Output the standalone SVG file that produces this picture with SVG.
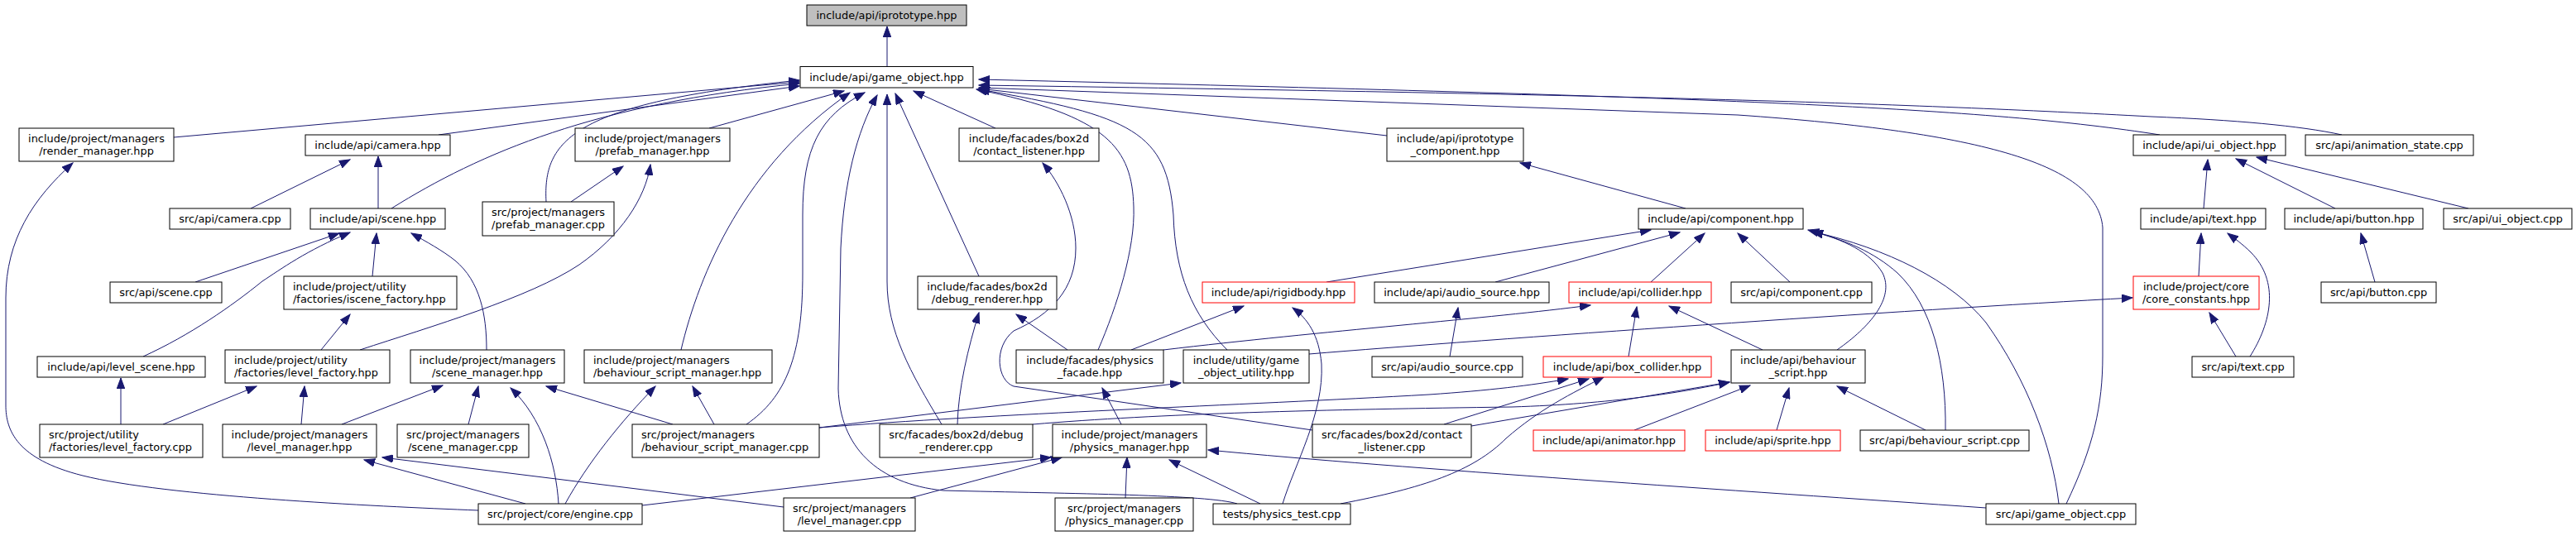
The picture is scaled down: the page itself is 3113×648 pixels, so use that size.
<svg xmlns="http://www.w3.org/2000/svg" width="3113" height="648" viewBox="0 0 3113 648">
<style>
.n rect{fill:#fff;stroke:#000;stroke-width:1}
.root rect{fill:#bfbfbf}
.red rect{stroke:#ff0000}
text{font-family:"DejaVu Sans","Liberation Sans",sans-serif;font-size:12.9px;fill:#000;text-anchor:middle}
text.l{text-anchor:start}
.e path{fill:none;stroke:#191970;stroke-width:1;marker-end:url(#a)}
</style>
<defs>
<marker id="a" markerWidth="14" markerHeight="10" refX="13" refY="5" orient="auto" markerUnits="userSpaceOnUse"><path d="M0,0.2 L13,5 L0,9.8 Z" fill="#191970" stroke="#191970" stroke-width="1"/></marker>
</defs>
<rect width="3113" height="648" fill="#fff"/>
<g class="e" id="edges">
<path d="M1072,80.5 L1072,32"/>
<path d="M210,166 L966,99"/>
<path d="M530,163 L966,104"/>
<path d="M473,252 C580,185 720,125 966,101"/>
<path d="M660,244 C656,170 690,125 966,97"/>
<path d="M857,155 L1020,110"/>
<path d="M823,423 C845,330 900,200 1027,112"/>
<path d="M902,513 C950,480 970,430 970,330 L970,260 C970,180 990,140 1045,112"/>
<path d="M1495,609 C1460,598 1300,597 1140,593 C1060,585 1015,540 1013,470 L1016,300 C1020,220 1035,160 1060,115"/>
<path d="M1138,513 C1100,450 1072,400 1072,340 L1072,114"/>
<path d="M1183,334 L1082,113"/>
<path d="M1203,155 L1104,110"/>
<path d="M1327,423 C1350,370 1372,300 1370,250 C1368,180 1340,140 1180,108"/>
<path d="M1483,423 C1440,380 1420,330 1418,260 C1410,160 1370,140 1183,108"/>
<path d="M1676,164 L1183,107"/>
<path d="M2497,609 C2530,540 2541,490 2541,430 L2541,275 C2535,200 2400,160 2100,139 L1183,106"/>
<path d="M2610,163 C2400,130 2100,118 1183,96"/>
<path d="M2830,163 C2780,152 2700,145 2600,141 C2300,125 2000,115 1183,103"/>
<path d="M303,252 L423,193"/>
<path d="M457,252 L457,189"/>
<path d="M236,341 L410,282"/>
<path d="M173,431 C230,405 280,370 317,340 C340,325 370,303 423,281"/>
<path d="M450,334 L455,282"/>
<path d="M588,423 C588,380 580,340 550,315 C535,303 515,292 497,282"/>
<path d="M690,244 L753,201"/>
<path d="M435,423 C520,395 640,360 700,320 C750,285 780,240 786,199"/>
<path d="M388,423 L423,380"/>
<path d="M197,513 L310,467"/>
<path d="M364,513 L368,467"/>
<path d="M146,513 L146,457"/>
<path d="M413,513 L535,466"/>
<path d="M566,513 L578,467"/>
<path d="M675,609 C672,560 655,505 617,469"/>
<path d="M813,513 L660,467"/>
<path d="M683,609 C710,560 750,510 792,467"/>
<path d="M863,513 L837,467"/>
<path d="M578,617 C450,612 200,600 100,575 C20,555 7,520 7,490 L7,360 C7,290 40,240 88,197"/>
<path d="M635,609 L440,556"/>
<path d="M947,613 L462,553"/>
<path d="M776,611 L1270,553"/>
<path d="M1100,602 L1283,553"/>
<path d="M1360,602 L1362,553"/>
<path d="M1523,609 L1413,556"/>
<path d="M2400,614 C2100,593 1700,567 1460,544"/>
<path d="M1355,513 L1332,469"/>
<path d="M1157,513 C1158,470 1170,420 1183,378"/>
<path d="M1290,423 L1228,380"/>
<path d="M1586,520 L1225,467 C1205,460 1200,420 1225,400 C1270,380 1300,350 1300,300 C1300,260 1280,220 1260,197"/>
<path d="M2037,252 L1837,197"/>
<path d="M1603,341 L1995,278"/>
<path d="M1807,341 L2030,281"/>
<path d="M1995,341 L2060,282"/>
<path d="M2163,341 L2100,282"/>
<path d="M2220,423 C2260,395 2290,360 2275,330 C2260,305 2230,290 2185,278"/>
<path d="M2351,520 C2352,440 2335,370 2293,330 C2265,305 2230,290 2190,280"/>
<path d="M2488,609 C2480,540 2450,460 2400,390 C2360,340 2280,300 2190,280"/>
<path d="M1968,431 L1978,371"/>
<path d="M2130,423 L2017,370"/>
<path d="M1406,423 C1600,400 1800,385 1922,369"/>
<path d="M1367,423 L1503,370"/>
<path d="M1550,609 C1565,560 1600,500 1597,440 C1594,405 1580,385 1562,372"/>
<path d="M1752,431 L1762,372"/>
<path d="M1582,428 C1800,410 2300,375 2577,360"/>
<path d="M2657,334 L2660,282"/>
<path d="M2719,431 C2745,390 2755,340 2720,305 C2710,295 2700,288 2692,282"/>
<path d="M2702,431 L2670,378"/>
<path d="M2663,252 L2668,193"/>
<path d="M2822,252 L2702,192"/>
<path d="M2983,252 L2727,190"/>
<path d="M2870,341 L2853,282"/>
<path d="M1745,513 L1920,458"/>
<path d="M1620,609 C1720,590 1780,570 1820,530 C1860,495 1900,475 1938,456"/>
<path d="M990,517 C1200,500 1500,490 1727,477 C1800,472 1850,466 1895,458"/>
<path d="M990,517 L1427,463"/>
<path d="M1248,513 C1400,500 1600,495 1827,492 C1950,488 2030,475 2090,462"/>
<path d="M1778,515 L2090,462"/>
<path d="M1975,520 L2115,466"/>
<path d="M2147,520 L2162,469"/>
<path d="M2327,520 L2220,467"/>
</g>
<g class="n root" id="n_iprototype"><rect x="975" y="6" width="193" height="25"/><text x="1071.5" y="23">include/api/iprototype.hpp</text></g>
<g class="n" id="n_game_object"><rect x="967" y="80.5" width="209" height="25.5"/><text x="1071.5" y="97.5">include/api/game_object.hpp</text></g>
<g class="n" id="n_render_manager"><rect x="23" y="155" width="187" height="40"/><text x="116.5" y="172">include/project/managers</text><text x="116.5" y="187">/render_manager.hpp</text></g>
<g class="n" id="n_camera_hpp"><rect x="369" y="163" width="175" height="25"/><text x="456.5" y="180">include/api/camera.hpp</text></g>
<g class="n" id="n_prefab_hpp"><rect x="695" y="155" width="187" height="40"/><text x="788.5" y="172">include/project/managers</text><text x="788.5" y="187">/prefab_manager.hpp</text></g>
<g class="n" id="n_contact_hpp"><rect x="1159" y="155" width="169" height="40"/><text x="1243.5" y="172">include/facades/box2d</text><text x="1243.5" y="187">/contact_listener.hpp</text></g>
<g class="n" id="n_iproto_comp"><rect x="1676" y="155" width="165" height="40"/><text x="1758.5" y="172">include/api/iprototype</text><text x="1758.5" y="187">_component.hpp</text></g>
<g class="n" id="n_ui_object_hpp"><rect x="2578" y="163" width="184" height="25"/><text x="2670" y="180">include/api/ui_object.hpp</text></g>
<g class="n" id="n_anim_state"><rect x="2786" y="163" width="203" height="25"/><text x="2887.5" y="180">src/api/animation_state.cpp</text></g>
<g class="n" id="n_camera_cpp"><rect x="205" y="252" width="146" height="25"/><text x="278" y="269">src/api/camera.cpp</text></g>
<g class="n" id="n_scene_hpp"><rect x="375" y="252" width="163" height="25"/><text x="456.5" y="269">include/api/scene.hpp</text></g>
<g class="n" id="n_prefab_cpp"><rect x="583" y="244" width="159" height="41"/><text x="662.5" y="261">src/project/managers</text><text x="662.5" y="276">/prefab_manager.cpp</text></g>
<g class="n" id="n_component_hpp"><rect x="1980" y="252" width="199" height="25"/><text x="2079.5" y="269">include/api/component.hpp</text></g>
<g class="n" id="n_text_hpp"><rect x="2587" y="252" width="151" height="25"/><text x="2662.5" y="269">include/api/text.hpp</text></g>
<g class="n" id="n_button_hpp"><rect x="2761" y="252" width="167" height="25"/><text x="2844.5" y="269">include/api/button.hpp</text></g>
<g class="n" id="n_ui_object_cpp"><rect x="2953" y="252" width="155" height="25"/><text x="3030.5" y="269">src/api/ui_object.cpp</text></g>
<g class="n" id="n_scene_cpp"><rect x="133" y="341" width="135" height="25"/><text x="200.5" y="358">src/api/scene.cpp</text></g>
<g class="n" id="n_iscene_factory"><rect x="343" y="334" width="209" height="40"/><text class="l" x="354" y="351">include/project/utility</text><text class="l" x="354" y="366">/factories/iscene_factory.hpp</text></g>
<g class="n" id="n_debug_hpp"><rect x="1109" y="334" width="168" height="40"/><text x="1193" y="351">include/facades/box2d</text><text x="1193" y="366">/debug_renderer.hpp</text></g>
<g class="n red" id="n_rigidbody"><rect x="1453" y="341" width="184" height="25"/><text x="1545" y="358">include/api/rigidbody.hpp</text></g>
<g class="n" id="n_audio_hpp"><rect x="1661" y="341" width="211" height="25"/><text x="1766.5" y="358">include/api/audio_source.hpp</text></g>
<g class="n red" id="n_collider"><rect x="1896" y="341" width="172" height="25"/><text x="1982" y="358">include/api/collider.hpp</text></g>
<g class="n" id="n_component_cpp"><rect x="2092" y="341" width="170" height="25"/><text x="2177" y="358">src/api/component.cpp</text></g>
<g class="n red" id="n_core_constants"><rect x="2578" y="334" width="152" height="40"/><text x="2654" y="351">include/project/core</text><text x="2654" y="366">/core_constants.hpp</text></g>
<g class="n" id="n_button_cpp"><rect x="2805" y="341" width="139" height="25"/><text x="2874.5" y="358">src/api/button.cpp</text></g>
<g class="n" id="n_level_scene"><rect x="45" y="431" width="203" height="25"/><text x="146.5" y="448">include/api/level_scene.hpp</text></g>
<g class="n" id="n_level_factory_hpp"><rect x="272" y="423" width="199" height="40"/><text class="l" x="283" y="440">include/project/utility</text><text class="l" x="283" y="455">/factories/level_factory.hpp</text></g>
<g class="n" id="n_scene_manager_hpp"><rect x="496" y="423" width="186" height="40"/><text x="589" y="440">include/project/managers</text><text x="589" y="455">/scene_manager.hpp</text></g>
<g class="n" id="n_bsm_hpp"><rect x="706" y="423" width="227" height="40"/><text class="l" x="717" y="440">include/project/managers</text><text class="l" x="717" y="455">/behaviour_script_manager.hpp</text></g>
<g class="n" id="n_physics_facade"><rect x="1228" y="423" width="178" height="40"/><text x="1317" y="440">include/facades/physics</text><text x="1317" y="455">_facade.hpp</text></g>
<g class="n" id="n_go_utility"><rect x="1430" y="423" width="152" height="40"/><text x="1506" y="440">include/utility/game</text><text x="1506" y="455">_object_utility.hpp</text></g>
<g class="n" id="n_audio_cpp"><rect x="1658" y="431" width="182" height="25"/><text x="1749" y="448">src/api/audio_source.cpp</text></g>
<g class="n red" id="n_box_collider"><rect x="1865" y="431" width="203" height="25"/><text x="1966.5" y="448">include/api/box_collider.hpp</text></g>
<g class="n" id="n_behaviour_hpp"><rect x="2092" y="423" width="162" height="40"/><text x="2173" y="440">include/api/behaviour</text><text x="2173" y="455">_script.hpp</text></g>
<g class="n" id="n_text_cpp"><rect x="2649" y="431" width="123" height="25"/><text x="2710.5" y="448">src/api/text.cpp</text></g>
<g class="n" id="n_level_factory_cpp"><rect x="48" y="513" width="197" height="40"/><text class="l" x="59" y="530">src/project/utility</text><text class="l" x="59" y="545">/factories/level_factory.cpp</text></g>
<g class="n" id="n_level_manager_hpp"><rect x="269" y="513" width="186" height="40"/><text x="362" y="530">include/project/managers</text><text x="362" y="545">/level_manager.hpp</text></g>
<g class="n" id="n_scene_manager_cpp"><rect x="480" y="513" width="159" height="40"/><text x="559.5" y="530">src/project/managers</text><text x="559.5" y="545">/scene_manager.cpp</text></g>
<g class="n" id="n_bsm_cpp"><rect x="764" y="513" width="226" height="40"/><text class="l" x="775" y="530">src/project/managers</text><text class="l" x="775" y="545">/behaviour_script_manager.cpp</text></g>
<g class="n" id="n_debug_cpp"><rect x="1063" y="513" width="185" height="40"/><text x="1155.5" y="530">src/facades/box2d/debug</text><text x="1155.5" y="545">_renderer.cpp</text></g>
<g class="n" id="n_physics_manager_hpp"><rect x="1272" y="513" width="186" height="40"/><text x="1365" y="530">include/project/managers</text><text x="1365" y="545">/physics_manager.hpp</text></g>
<g class="n" id="n_contact_cpp"><rect x="1586" y="513" width="192" height="40"/><text x="1682" y="530">src/facades/box2d/contact</text><text x="1682" y="545">_listener.cpp</text></g>
<g class="n red" id="n_animator"><rect x="1853" y="520" width="183" height="25"/><text x="1944.5" y="537">include/api/animator.hpp</text></g>
<g class="n red" id="n_sprite"><rect x="2061" y="520" width="163" height="25"/><text x="2142.5" y="537">include/api/sprite.hpp</text></g>
<g class="n" id="n_behaviour_cpp"><rect x="2248" y="520" width="204" height="25"/><text x="2350" y="537">src/api/behaviour_script.cpp</text></g>
<g class="n" id="n_engine"><rect x="578" y="609" width="198" height="25"/><text x="677" y="626">src/project/core/engine.cpp</text></g>
<g class="n" id="n_level_manager_cpp"><rect x="947" y="602" width="159" height="40"/><text x="1026.5" y="619">src/project/managers</text><text x="1026.5" y="634">/level_manager.cpp</text></g>
<g class="n" id="n_physics_manager_cpp"><rect x="1275" y="602" width="167" height="40"/><text x="1358.5" y="619">src/project/managers</text><text x="1358.5" y="634">/physics_manager.cpp</text></g>
<g class="n" id="n_physics_test"><rect x="1466" y="609" width="166" height="25"/><text x="1549" y="626">tests/physics_test.cpp</text></g>
<g class="n" id="n_game_object_cpp"><rect x="2400" y="609" width="181" height="25"/><text x="2490.5" y="626">src/api/game_object.cpp</text></g>
</svg>
